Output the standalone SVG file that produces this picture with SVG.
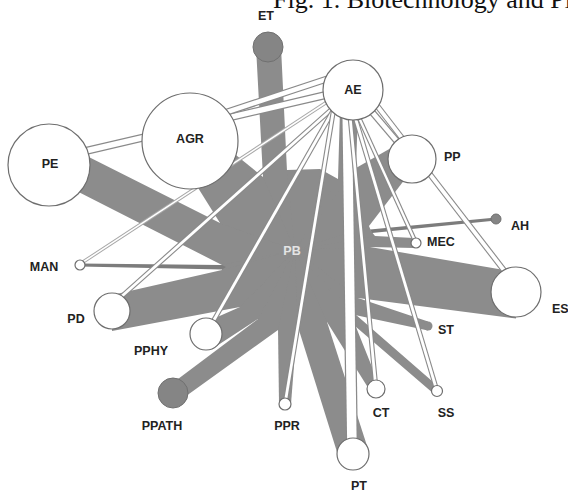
<svg xmlns="http://www.w3.org/2000/svg" width="568" height="495" viewBox="0 0 568 495">
<style>
.w{fill:#8c8c8c;stroke:none}
.wd{fill:#7c7c7c;stroke:none}
.so{stroke:#8a8a8a;stroke-linecap:butt;fill:none}
.si{stroke:#ffffff;stroke-linecap:butt;fill:none}
.nw{fill:#ffffff;stroke:#6e6e6e;stroke-width:1.2}
.ng{fill:#858585;stroke:#707070;stroke-width:1}
.lb{font-family:"Liberation Sans",Arial,sans-serif;font-weight:bold;font-size:12.5px;fill:#222}
.pb{font-family:"Liberation Sans",Arial,sans-serif;font-weight:bold;font-size:12.5px;fill:#e4e4e4}
.ttl{font-family:"Liberation Serif","Times New Roman",serif;font-size:26px;fill:#111}
</style>
<rect width="568" height="495" fill="#ffffff"/>
<text class="ttl" x="273" y="8">Fig. 1. Biotechnology and Pl</text>

<g id="node-PB">
<polygon class="w" points="263,177 287,170 320,169 338,179 356,168 369,226 371,231 375,236 370,247 358,298 355,315 348,320 327,322 298,327 278,328 258,319 240,307 222,270 222,265 220,223"/>
</g>

<g id="connectors">
<g id="links-PB">
<polygon class="w" points="55,140 220,223 295,250 222,265 55,180"/>
<polygon class="w" points="205,130 263,177 295,250 220,223 190,175"/>
<polygon class="w" points="256,47 281,47 287,171 295,250 263,177"/>
<polygon class="w" points="340,110 358,110 356,168 295,250 338,179"/>
<polygon class="w" points="405,140 356,168 295,250 369,226 412,170"/>
<polygon class="wd" points="496,217.5 496,220.5 372,233 370,229.5"/>
<polygon class="w" points="414,238 414,248 370,247 295,250 375,236"/>
<polygon class="w" points="516,272 370,247 295,250 358,298 516,318.5"/>
<polygon class="w" points="358,298 428,321.5 428,330.5 355,315 295,250"/>
<polygon class="w" points="355,314 440,388 434,394 348,320 295,250"/>
<polygon class="w" points="352,317 378,382 367,386 327,322 295,250"/>
<polygon class="w" points="327,322 369,452 337,452 298,327 295,250"/>
<polygon class="w" points="297,327 291,404 279,404 278,328 295,250"/>
<polygon class="w" points="170,385 258,319 295,250 278,330 175,404"/>
<polygon class="w" points="206,322 240,307 295,250 258,319 212,349"/>
<polygon class="w" points="112,295 222,270 295,250 240,307 112,331"/>
<polygon class="wd" points="80,263.5 222,265 226,267 222,269.5 80,266.5"/>
</g>
<g id="links-AE">
<line class="so" stroke-width="8" x1="60" y1="157" x2="330" y2="94"/>
<line class="si" stroke-width="5.5" x1="60" y1="157" x2="330" y2="94"/>
<line class="so" stroke-width="7" x1="200" y1="121" x2="330" y2="78"/>
<line class="si" stroke-width="4.5" x1="200" y1="121" x2="330" y2="78"/>
<line stroke="#a8a8a8" stroke-width="3.5" x1="83" y1="262" x2="330" y2="100"/>
<line class="si" stroke-width="1.5" x1="83" y1="262" x2="330" y2="100"/>
<line class="so" stroke-width="5" x1="112" y1="305" x2="333" y2="108"/>
<line class="si" stroke-width="2.8" x1="112" y1="305" x2="333" y2="108"/>
<line class="so" stroke-width="5" x1="206" y1="334" x2="338" y2="102"/>
<line class="si" stroke-width="2.8" x1="206" y1="334" x2="338" y2="102"/>
<line class="so" stroke-width="5" x1="285" y1="404" x2="336" y2="95"/>
<line class="si" stroke-width="2.8" x1="285" y1="404" x2="336" y2="95"/>
<line class="so" stroke-width="12" x1="347" y1="100" x2="352" y2="450"/>
<line class="si" stroke-width="9.5" x1="347" y1="100" x2="352" y2="450"/>
<line class="so" stroke-width="5" x1="348" y1="95" x2="376" y2="389"/>
<line class="si" stroke-width="2.8" x1="348" y1="95" x2="376" y2="389"/>
<line class="so" stroke-width="5" x1="350" y1="100" x2="437" y2="391"/>
<line class="si" stroke-width="2.8" x1="350" y1="100" x2="437" y2="391"/>
<line class="so" stroke-width="4.5" x1="351" y1="100" x2="416" y2="243"/>
<line class="si" stroke-width="2.3" x1="351" y1="100" x2="416" y2="243"/>
<line class="so" stroke-width="6" x1="368" y1="94" x2="513" y2="282"/>
<line class="si" stroke-width="3.8" x1="368" y1="94" x2="513" y2="282"/>
<line class="so" stroke-width="7" x1="355" y1="92" x2="412" y2="159"/>
<line class="si" stroke-width="4.5" x1="355" y1="92" x2="412" y2="159"/>
</g>
</g>

<g id="label-PB"><text class="pb" x="292" y="255" text-anchor="middle">PB</text></g>
<g id="node-ET"><circle class="ng" cx="268" cy="47" r="15"/><text class="lb" x="266" y="20" text-anchor="middle">ET</text></g>
<g id="node-AE"><circle class="nw" cx="353" cy="90" r="30"/><text class="lb" x="353" y="94" text-anchor="middle">AE</text></g>
<g id="node-AGR"><circle class="nw" cx="190" cy="141" r="48"/><text class="lb" x="190" y="143" text-anchor="middle">AGR</text></g>
<g id="node-PE"><circle class="nw" cx="49" cy="165" r="41"/><text class="lb" x="50" y="168" text-anchor="middle">PE</text></g>
<g id="node-PP"><circle class="nw" cx="412" cy="159" r="24"/><text class="lb" x="444" y="161">PP</text></g>
<g id="node-AH"><circle class="ng" cx="496" cy="219" r="5"/><text class="lb" x="511" y="230">AH</text></g>
<g id="node-MEC"><circle class="nw" cx="416" cy="243" r="5"/><text class="lb" x="427" y="246">MEC</text></g>
<g id="node-ES"><circle class="nw" cx="516" cy="292" r="25"/><text class="lb" x="552" y="313">ES</text></g>
<g id="node-ST"><circle class="w" cx="428" cy="326" r="4.5"/><text class="lb" x="438" y="334">ST</text></g>
<g id="node-SS"><circle class="nw" cx="437" cy="391" r="5.5"/><text class="lb" x="446" y="417" text-anchor="middle">SS</text></g>
<g id="node-CT"><circle class="nw" cx="376" cy="389" r="9"/><text class="lb" x="381" y="417" text-anchor="middle">CT</text></g>
<g id="node-PT"><circle class="nw" cx="353" cy="454" r="16"/><text class="lb" x="359" y="490" text-anchor="middle">PT</text></g>
<g id="node-PPR"><circle class="nw" cx="285" cy="404" r="6"/><text class="lb" x="287" y="430" text-anchor="middle">PPR</text></g>
<g id="node-PPATH"><circle class="ng" cx="173" cy="393" r="15"/><text class="lb" x="162" y="430" text-anchor="middle">PPATH</text></g>
<g id="node-PPHY"><circle class="nw" cx="206" cy="334" r="16"/><text class="lb" x="151" y="355" text-anchor="middle">PPHY</text></g>
<g id="node-PD"><circle class="nw" cx="112" cy="311" r="18"/><text class="lb" x="76" y="323" text-anchor="middle">PD</text></g>
<g id="node-MAN"><circle class="nw" cx="80" cy="265" r="5"/><text class="lb" x="44" y="271" text-anchor="middle">MAN</text></g>
</svg>
